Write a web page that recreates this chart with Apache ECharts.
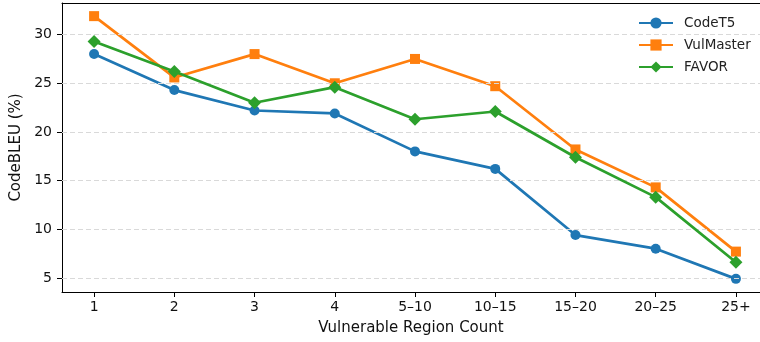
<!DOCTYPE html>
<html>
<head>
<meta charset="utf-8">
<script src="https://cdn.jsdelivr.net/npm/echarts@6/dist/echarts.min.js"></script>
<style>html,body{margin:0;padding:0;background:#fff}#c{width:760px;height:342px}</style>
</head>
<body>
<div id="c"></div>
<script>
const categories = ['1', '2', '3', '4', '5\u201310', '10\u201315', '15\u201320', '20\u201325', '25+'];
const codeT5 = [28.0, 24.3, 22.2, 21.9, 18.0, 16.2, 9.4, 8.0, 4.9];
const vulMaster = [31.9, 25.6, 28.0, 25.0, 27.5, 24.7, 18.2, 14.3, 7.7];
const favor = [29.3, 26.2, 23.0, 24.6, 21.3, 22.1, 17.4, 13.3, 6.6];
const yTicks = [5, 10, 15, 20, 25, 30];

const FONT = 'DejaVu Sans';
const toPairs = arr => arr.map((v, i) => [i, v]);
const xIdx = categories.map((c, i) => i);
const X_MIN = -0.4, X_MAX = 8.3;

const chart = echarts.init(document.getElementById('c'), null, {renderer: 'canvas'});
chart.setOption({
  animation: false,
  backgroundColor: '#fff',
  textStyle: {fontFamily: FONT},
  grid: {left: 62, top: 3, right: 0, bottom: 50, show: false, containLabel: false},
  legend: {
    orient: 'vertical', left: 633, top: 11, itemWidth: 34, itemHeight: 14, itemGap: 8,
    textStyle: {fontFamily: FONT, fontSize: 13.5, color: '#222', padding: [0, 0, 0, 6]},
    data: ['CodeT5', 'VulMaster', 'FAVOR']
  },
  xAxis: [{
    type: 'value', min: X_MIN, max: X_MAX,
    name: 'Vulnerable Region Count', nameLocation: 'middle', nameGap: 29,
    nameTextStyle: {fontFamily: FONT, fontSize: 15, color: '#111'},
    axisLine: {show: true, onZero: false, lineStyle: {color: '#000', width: 1}},
    axisTick: {show: true, length: 5, customValues: xIdx, lineStyle: {color: '#000'}},
    axisLabel: {customValues: xIdx, margin: 8, fontFamily: FONT, fontSize: 14, color: '#111',
      formatter: v => categories[Math.round(v)] ?? ''},
    splitLine: {show: false}
  }, {
    type: 'value', min: X_MIN, max: X_MAX, position: 'top',
    axisLine: {show: true, onZero: false, lineStyle: {color: '#000', width: 1}},
    axisTick: {show: false}, axisLabel: {show: false}, splitLine: {show: false}
  }],
  yAxis: {
    type: 'value', min: 3.55, max: 33.25,
    name: 'CodeBLEU (%)', nameLocation: 'middle', nameGap: 35, nameRotate: 90,
    nameTextStyle: {fontFamily: FONT, fontSize: 15, color: '#111'},
    axisLine: {show: true, onZero: false, lineStyle: {color: '#000', width: 1}},
    axisTick: {show: true, length: 5, customValues: yTicks, lineStyle: {color: '#000'}},
    axisLabel: {customValues: yTicks, margin: 10, fontFamily: FONT, fontSize: 14, color: '#111'},
    splitLine: {show: false}
  },
  series: [
    {
      type: 'line', name: '_grid', data: [], z: 1, silent: true, legendHoverLink: false,
      markLine: {
        silent: true, symbol: 'none', label: {show: false},
        lineStyle: {color: '#d9d9d9', type: [5, 3], width: 1},
        data: yTicks.map(v => ({yAxis: v}))
      }
    },
    {
      type: 'line', name: 'CodeT5', data: toPairs(codeT5), color: '#1f77b4',
      symbol: 'circle', symbolSize: 10, lineStyle: {width: 2.7}, z: 3
    },
    {
      type: 'line', name: 'VulMaster', data: toPairs(vulMaster), color: '#ff7f0e',
      symbol: 'rect', symbolSize: 10, lineStyle: {width: 2.7}, z: 4
    },
    {
      type: 'line', name: 'FAVOR', data: toPairs(favor), color: '#2ca02c',
      symbol: 'diamond', symbolSize: 13, lineStyle: {width: 2.7}, z: 5
    }
  ]
});
</script>
</body>
</html>
